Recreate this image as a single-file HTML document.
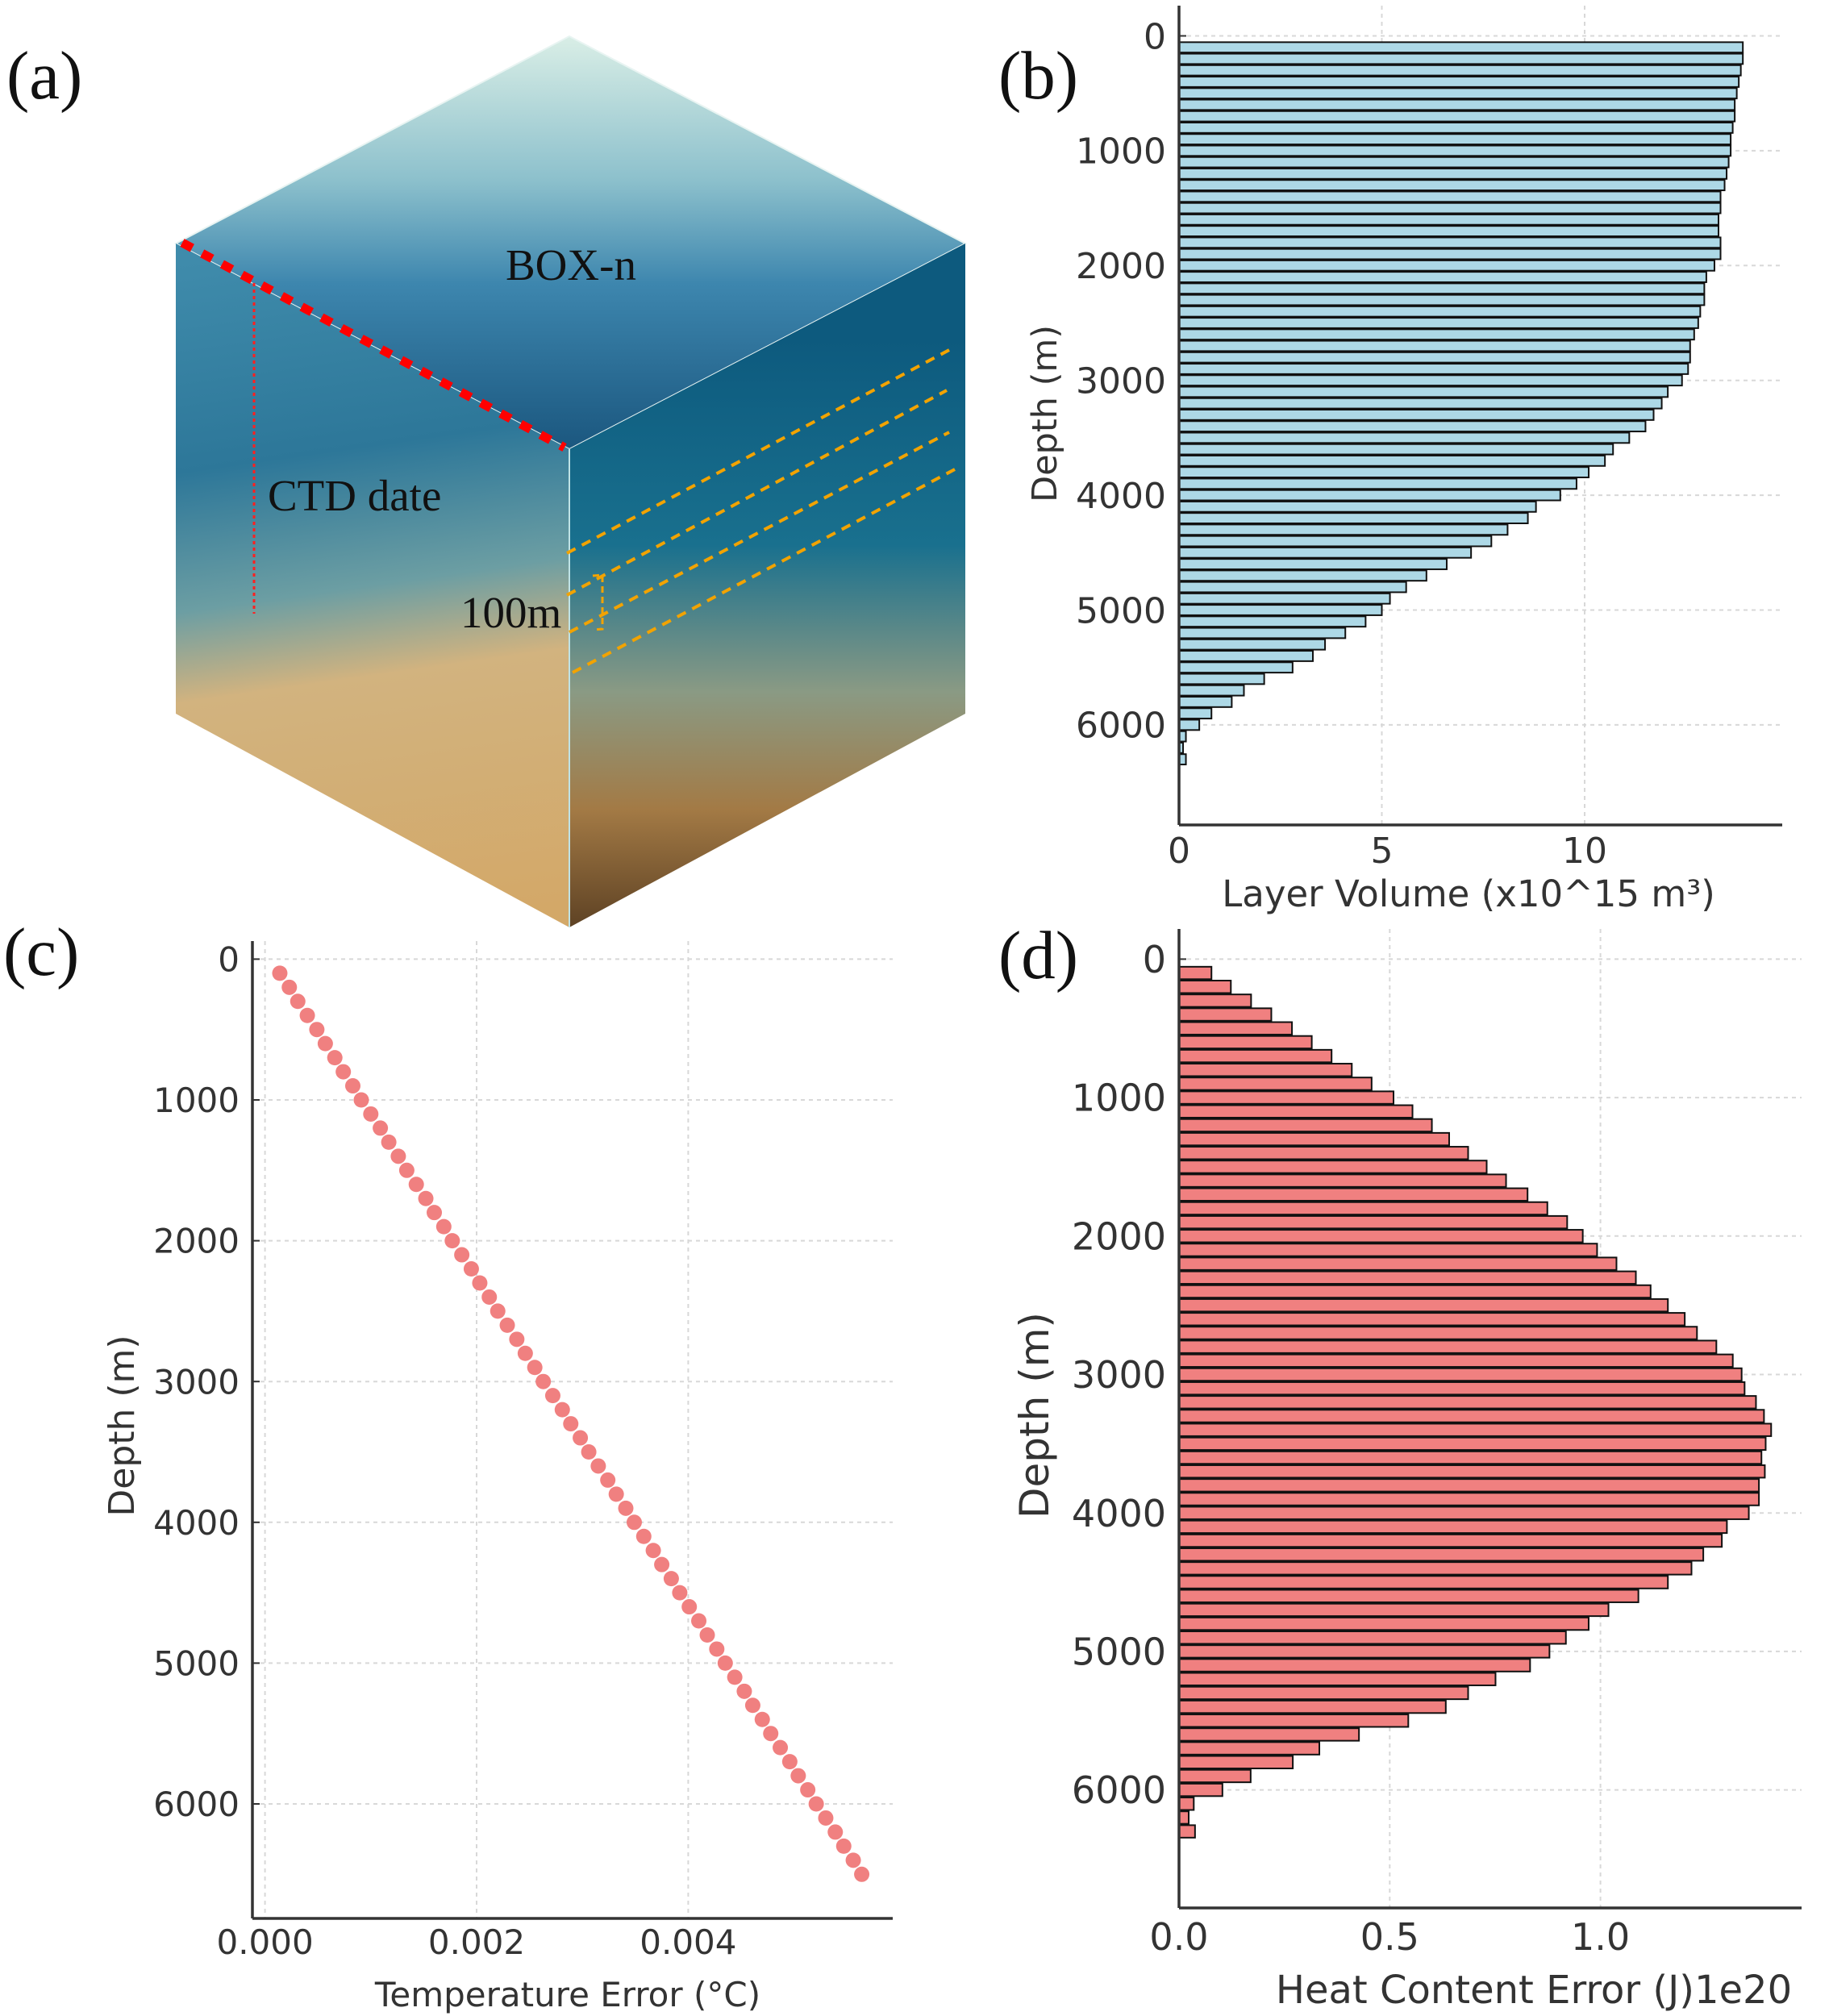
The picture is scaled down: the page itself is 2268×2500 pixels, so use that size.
<!DOCTYPE html>
<html><head><meta charset="utf-8"><style>
html,body{margin:0;padding:0;background:#fff;}
svg{display:block;}
</style></head><body>
<svg id="fig" width="2268" height="2500" viewBox="0 0 2268 2500" xmlns="http://www.w3.org/2000/svg">
<defs>
<linearGradient id="gTop" x1="706" y1="45" x2="706" y2="557" gradientUnits="userSpaceOnUse">
<stop offset="0" stop-color="#d9eee6"/><stop offset="0.35" stop-color="#8cc0cc"/><stop offset="0.6" stop-color="#3d86ae"/><stop offset="1" stop-color="#1b577f"/></linearGradient>
<linearGradient id="gLeft" x1="400" y1="302" x2="520" y2="1150" gradientUnits="userSpaceOnUse">
<stop offset="0" stop-color="#3f8bab"/><stop offset="0.3" stop-color="#2d7799"/><stop offset="0.5" stop-color="#6c9ea3"/><stop offset="0.63" stop-color="#d2b37f"/><stop offset="1" stop-color="#d3a868"/></linearGradient>
<linearGradient id="gRight" x1="950" y1="420" x2="950" y2="1150" gradientUnits="userSpaceOnUse">
<stop offset="0" stop-color="#0d5a7e"/><stop offset="0.35" stop-color="#19708e"/><stop offset="0.6" stop-color="#8a9a84"/><stop offset="0.8" stop-color="#a37a45"/><stop offset="1" stop-color="#5e4224"/></linearGradient>
</defs>
<g>
<polygon points="706,45 1197,302 706,557 218,302" fill="url(#gTop)" stroke="#e8f4f2" stroke-width="2"/>
<polygon points="218,302 706,557 706,1150 218,885" fill="url(#gLeft)"/>
<polygon points="706,557 1197,302 1197,885 706,1150" fill="url(#gRight)"/>
<line x1="706" y1="557" x2="706" y2="1150" stroke="#bfe3e6" stroke-width="2"/>
<line x1="226" y1="301" x2="700" y2="555" stroke="#ff0000" stroke-width="11" stroke-dasharray="14,14"/>
<line x1="315" y1="351" x2="315" y2="761" stroke="#ff2020" stroke-width="3" stroke-dasharray="4,4"/>
<g stroke="#f2a300" stroke-width="4" stroke-dasharray="12,9">
<line x1="703" y1="686" x2="1177" y2="434"/><line x1="703" y1="738" x2="1174" y2="484"/>
<line x1="706" y1="784" x2="1177" y2="536"/><line x1="710" y1="834" x2="1184" y2="582"/>
</g>
<polyline points="735,714 747,713 747,780 735,781" fill="none" stroke="#f2a300" stroke-width="3" stroke-dasharray="8,5"/>
<g font-family="'Liberation Serif',serif" font-size="55" fill="#111">
<text x="627" y="347">BOX-n</text>
<text x="332" y="633">CTD date</text>
<text x="571" y="778">100m</text>
</g>
</g>
<g font-family="'Liberation Serif',serif" font-size="85" fill="#111">
<text x="8" y="122">(a)</text>
<text x="1238" y="122">(b)</text>
<text x="4" y="1209">(c)</text>
<text x="1238" y="1213">(d)</text>
</g>
<g id="pb"></g><g id="pc"></g><g id="pd"></g>
</svg>
<script>
// Panel b: layer volume (x10^15 m3) by depth
const bDepths = [100,200,300,400,500,600,700,800,900,1000,1100,1200,1300,1400,1500,1600,1700,1800,1900,2000,2100,2200,2300,2400,2500,2600,2700,2800,2900,3000,3100,3200,3300,3400,3500,3600,3700,3800,3900,4000,4100,4200,4300,4400,4500,4600,4700,4800,4900,5000,5100,5200,5300,5400,5500,5600,5700,5800,5900,6000,6100,6200,6300];
const bVolumes = [13.9,13.9,13.85,13.8,13.75,13.7,13.7,13.65,13.6,13.6,13.55,13.5,13.45,13.35,13.35,13.3,13.3,13.35,13.35,13.2,13.0,12.95,12.95,12.85,12.8,12.7,12.6,12.6,12.55,12.4,12.05,11.9,11.7,11.5,11.1,10.7,10.5,10.1,9.8,9.4,8.8,8.6,8.1,7.7,7.2,6.6,6.1,5.6,5.2,5.0,4.6,4.1,3.6,3.3,2.8,2.1,1.6,1.3,0.8,0.5,0.17,0.1,0.17];
const bXTicks = [0,5,10];
const bYTicks = [0,1000,2000,3000,4000,5000,6000];
// Panel c: temperature error (x1e-3 degC)
const cDepths = [100,200,300,400,500,600,700,800,900,1000,1100,1200,1300,1400,1500,1600,1700,1800,1900,2000,2100,2200,2300,2400,2500,2600,2700,2800,2900,3000,3100,3200,3300,3400,3500,3600,3700,3800,3900,4000,4100,4200,4300,4400,4500,4600,4700,4800,4900,5000,5100,5200,5300,5400,5500,5600,5700,5800,5900,6000,6100,6200,6300,6400,6500];
const cTempErr = [0.14,0.23,0.31,0.40,0.49,0.57,0.66,0.74,0.83,0.91,1.00,1.09,1.17,1.26,1.34,1.43,1.52,1.60,1.69,1.77,1.86,1.95,2.03,2.12,2.20,2.29,2.38,2.46,2.55,2.63,2.72,2.81,2.89,2.98,3.06,3.15,3.24,3.32,3.41,3.49,3.58,3.67,3.75,3.84,3.92,4.01,4.10,4.18,4.27,4.35,4.44,4.53,4.61,4.70,4.78,4.87,4.96,5.04,5.13,5.21,5.30,5.39,5.47,5.56,5.64];
const cXTicks = [0,2,4];
const cXTickLabels = ["0.000","0.002","0.004"];
const cYTicks = [0,1000,2000,3000,4000,5000,6000];
// Panel d: heat content error (x1e20 J)
const dDepths = [100,200,300,400,500,600,700,800,900,1000,1100,1200,1300,1400,1500,1600,1700,1800,1900,2000,2100,2200,2300,2400,2500,2600,2700,2800,2900,3000,3100,3200,3300,3400,3500,3600,3700,3800,3900,4000,4100,4200,4300,4400,4500,4600,4700,4800,4900,5000,5100,5200,5300,5400,5500,5600,5700,5800,5900,6000,6100,6200,6300];
const dHeatErr = [0.077,0.123,0.171,0.219,0.268,0.315,0.362,0.41,0.457,0.509,0.554,0.60,0.641,0.686,0.73,0.776,0.827,0.874,0.921,0.958,0.992,1.038,1.084,1.119,1.16,1.2,1.229,1.275,1.314,1.335,1.342,1.369,1.388,1.405,1.392,1.382,1.39,1.376,1.376,1.352,1.3,1.288,1.244,1.216,1.16,1.09,1.019,0.972,0.918,0.879,0.833,0.751,0.686,0.633,0.544,0.427,0.333,0.27,0.17,0.103,0.035,0.023,0.038];
const dXTicks = [0,0.5,1.0];
const dXTickLabels = ["0.0","0.5","1.0"];
const dYTicks = [0,1000,2000,3000,4000,5000,6000];

const NS = "http://www.w3.org/2000/svg";
function mk(parent, tag, attrs, text){
  const e = document.createElementNS(NS, tag);
  for (const k in attrs) e.setAttribute(k, attrs[k]);
  if (text !== undefined) e.textContent = text;
  parent.appendChild(e);
  return e;
}
function axes(g, o){
  o.xTicks.forEach((t,i)=>{
    const x = o.sx(t);
    const gl = mk(g,'line',{x1:x,y1:o.top,x2:x,y2:o.bottom,stroke:'#d8d8d8','stroke-width':2,'stroke-dasharray':'5,5'});
    
    
    const tl = mk(g,'text',{x:x,y:o.xTickY,'text-anchor':'middle','font-size':o.fs,fill:'#333'}, o.xLabels ? o.xLabels[i] : String(t));
    
    
  });
  o.yTicks.forEach(t=>{
    const y = o.sy(t);
    const gl = mk(g,'line',{x1:o.left,y1:y,x2:o.right,y2:y,stroke:'#d8d8d8','stroke-width':2,'stroke-dasharray':'5,5'});
    
    
    const tk = mk(g,'line',{x1:o.left,y1:y,x2:o.left+9,y2:y,stroke:'#333','stroke-width':2});
    
    
    const tl = mk(g,'text',{x:o.yTickX,y:y+o.fs*0.36,'text-anchor':'end','font-size':o.fs,fill:'#333'}, String(t));
    
    
  });
}
function spines(g,o){
  const l = mk(g,'line',{x1:o.left,y1:o.top,x2:o.left,y2:o.bottom,stroke:'#333','stroke-width':3.5});
  
  
  const b = mk(g,'line',{x1:o.left,y1:o.bottom,x2:o.right,y2:o.bottom,stroke:'#333','stroke-width':3.5});
  
  
}
function labels(g,o){
  const xl = mk(g,'text',{x:o.xlX,y:o.xlY,'text-anchor':'middle','font-size':o.xfs,fill:'#333'}, o.xl);
  
  
  const yl = mk(g,'text',{x:o.ylX,y:o.ylY,'text-anchor':'middle','font-size':o.yfs,fill:'#333',transform:`rotate(-90 ${o.ylX} ${o.ylY})`}, 'Depth (m)');
  
  
}
const FONT = "'DejaVu Sans','Liberation Sans',sans-serif";

// ---- Panel b
(function(){
  const g = document.getElementById('pb');
  
  
  g.setAttribute('font-family',FONT);
  const o = {left:1462,right:2210,top:7,bottom:1023,
    sx:v=>1462+v*50.3, sy:d=>44.5+d*0.1424,
    xTicks:bXTicks, yTicks:bYTicks, fs:44, xTickY:1070, yTickX:1446,
    xl:'Layer Volume (x10^15 m³)', xlX:1821, xlY:1124, xfs:45, yfs:43, ylX:1310, ylY:513};
  axes(g,o);
  const h = 90*0.1424;
  bDepths.forEach((d,i)=>{
    const y = o.sy(d);
    const r = mk(g,'rect',{x:o.sx(0),y:y-h/2,width:o.sx(bVolumes[i])-o.sx(0),height:h,fill:'#add8e6',stroke:'#111','stroke-width':2});
    
    
  });
  spines(g,o); labels(g,o);
})();

// ---- Panel c
(function(){
  const g = document.getElementById('pc');
  
  
  g.setAttribute('font-family',FONT);
  const o = {left:313,right:1107,top:1167,bottom:2379,
    sx:t=>328.6+t*131.2, sy:d=>1189.4+d*0.1746,
    xTicks:cXTicks, xLabels:cXTickLabels, yTicks:cYTicks, fs:42, xTickY:2423, yTickX:297,
    xl:'Temperature Error (°C)', xlX:704, xlY:2488, xfs:42, yfs:44, ylX:166, ylY:1768};
  axes(g,o);
  cDepths.forEach((d,i)=>{
    const c = mk(g,'circle',{cx:o.sx(cTempErr[i]),cy:o.sy(d),r:9.5,fill:'#f08080'});
    
    
  });
  spines(g,o); labels(g,o);
})();

// ---- Panel d
(function(){
  const g = document.getElementById('pd');
  
  
  g.setAttribute('font-family',FONT);
  const o = {left:1462,right:2234,top:1152,bottom:2366,
    sx:v=>1462+v*522.6, sy:d=>1189.4+d*0.1717,
    xTicks:dXTicks, xLabels:dXTickLabels, yTicks:dYTicks, fs:46, xTickY:2418, yTickX:1446,
    xl:'Heat Content Error (J)1e20', xlX:1902, xlY:2484, xfs:48, yfs:50, ylX:1300, ylY:1755};
  axes(g,o);
  const h = 90*0.1717;
  dDepths.forEach((d,i)=>{
    const y = o.sy(d);
    const r = mk(g,'rect',{x:o.sx(0),y:y-h/2,width:o.sx(dHeatErr[i])-o.sx(0),height:h,fill:'#f08080',stroke:'#111','stroke-width':2});
    
    
  });
  spines(g,o); labels(g,o);
})();
</script>
</body></html>
